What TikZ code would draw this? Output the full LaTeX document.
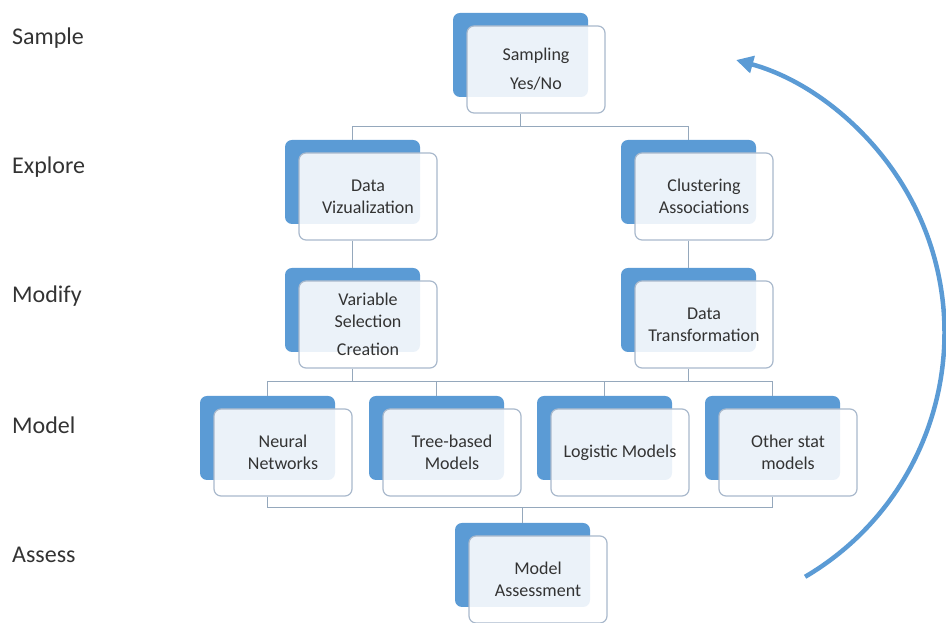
\documentclass[tikz,border=0pt]{standalone}
\usepackage{fontspec}
\setmainfont{Carlito}
\usepackage{tikz}
\usetikzlibrary{calc,arrows.meta}

\definecolor{cardblue}{HTML}{5B9BD5}
\definecolor{cardedge}{HTML}{A9B9CC}
\definecolor{linkgrey}{HTML}{95A8BC}
\definecolor{cardtext}{HTML}{333333}

\tikzset{
  backbox/.style={fill=cardblue, rounded corners=7pt, minimum width=135pt,
    minimum height=84pt, inner sep=0pt},
  frontbox/.style={draw=cardedge, line width=1.2pt, fill=white, fill opacity=0.88,
    text opacity=1, text=cardtext, rounded corners=7pt, minimum width=138pt,
    minimum height=87pt, inner sep=0pt, align=center,
    font=\fontsize{18}{22}\selectfont},
  conn/.style={draw=linkgrey, line width=1.2pt},
  stage/.style={anchor=west, inner sep=0pt, text=black!80,
    font=\fontsize{24}{28}\selectfont},
}

% back card and front card with the text
\newcommand{\card}[3]{%
  \node[backbox] (#1b) at (#2) {};
  \node[frontbox] (#1) at ([shift={(15.5,-14.5)}]#1b.center) {#3};
}

\begin{document}
\begin{tikzpicture}[x=1pt,y=1pt]
    \useasboundingbox (0,0) rectangle (946,623);

    % stage names
    \node[stage] (lsam) at (12,585) {Sample};
    \node[stage] (lexp) at (12,456) {Explore};
    \node[stage] (lmod) at (12,327) {Modify};
    \node[stage] (lmdl) at (12,198) {Model};
    \node[stage] (lass) at (12,68) {Assess};

    % cards
    \card{samp}{520.5,568}{Sampling\\[7pt]Yes/No}
    \card{dviz}{352.5,441}{Data\\Vizualization}
    \card{clus}{688.5,441}{Clustering\\Associations}
    \card{vsel}{352.5,313}{Variable\\Selection\\[6pt]Creation}
    \card{dtra}{688.5,313}{Data\\Transformation}
    \card{neur}{267.5,185}{Neural\\Networks}
    \card{tree}{436.5,185}{Tree-based\\Models}
    \card{logi}{604.5,185}{Logistic Models}
    \card{othr}{772.5,185}{Other stat\\models}
    \card{asse}{522.5,58}{Model\\Assessment}

    % connectors
    \draw[conn] (samp.south -| sampb) -- ++(0,-13) coordinate (j1);
    \draw[conn] (dvizb.north) |- (j1) -| (clusb.north);
    \draw[conn] (dviz.south -| dvizb) -- (vselb.north);
    \draw[conn] (clus.south -| clusb) -- (dtrab.north);

    \draw[conn] (vsel.south -| vselb) -- ++(0,-13) coordinate (j2);
    \draw[conn] (dtra.south -| dtrab) -- ++(0,-13) coordinate (j3);
    \draw[conn] (neurb.north) |- (j2) -- (j3) -| (othrb.north);
    \draw[conn] (treeb.north) -- (treeb.north |- j2);
    \draw[conn] (logib.north) -- (logib.north |- j2);

    \draw[conn] (neur.south -| neurb) -- ++(0,-11) coordinate (j4);
    \draw[conn] (othr.south -| othrb) -- ++(0,-11) coordinate (j5);
    \draw[conn] (j4) -- (j5);
    \draw[conn] (tree.south -| treeb) -- (tree.south -| treeb |- j4);
    \draw[conn] (logi.south -| logib) -- (logi.south -| logib |- j4);
    \draw[conn] (asseb.north) -- (asseb.north |- j4);

    % loop back arrow
    \coordinate (arcstart) at (805.1,46.2);
    \draw[cardblue, line width=4.5pt, -{Triangle[length=17pt,width=17pt]}]
      (arcstart) arc[start angle=-59.5, end angle=74.7, radius=283];
\end{tikzpicture}
\end{document}
